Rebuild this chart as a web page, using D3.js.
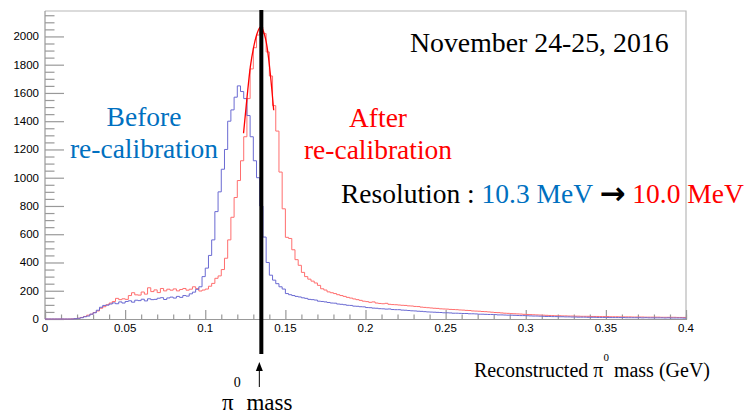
<!DOCTYPE html>
<html>
<head>
<meta charset="utf-8">
<script src="https://cdn.jsdelivr.net/npm/d3@7"></script>
<style>
  body { margin: 0; background: #fff; }
  .tick-label { font-family: "Liberation Sans", Arial, sans-serif; font-size: 11.5px; fill: #000; }
  .serif { font-family: "Liberation Serif", "Times New Roman", serif; }
</style>
</head>
<body>
<div id="chart"></div>
<script>
// histogram bins: 0.002 GeV wide, 0 -> 0.4 GeV
const binWidth = 0.002;

// before re-calibration (blue)
const beforeCounts = [
  0, 0, 0, 0, 0, 0, 0, 0, 0, 2,
  5, 9, 16, 21, 34, 44, 62, 83, 96, 98,
  106, 114, 108, 121, 113, 124, 129, 119, 133, 130,
  140, 128, 143, 137, 139, 147, 151, 138, 149, 155,
  148, 160, 153, 166, 162, 178, 190, 210, 228, 300,
  360, 450, 560, 760, 900, 1060, 1200, 1400, 1480, 1570,
  1650, 1610, 1560, 1440, 1290, 1120, 1000, 800, 580, 400,
  310, 275, 250, 228, 212, 180, 172, 166, 160, 156,
  150, 146, 139, 137, 134, 126, 124, 121, 117, 113,
  112, 106, 104, 101, 97, 96, 91, 90, 87, 86,
  81, 80, 77, 76, 73, 72, 70, 71, 67, 66,
  66, 63, 62, 60, 58, 57, 55, 54, 52, 50,
  49, 48, 47, 46, 44, 44, 43, 41, 41, 40,
  39, 39, 37, 37, 36, 34, 34, 33, 32, 32,
  31, 29, 29, 28, 27, 27, 26, 25, 24, 24,
  23, 22, 21, 21, 20, 19, 18, 18, 17, 17,
  16, 16, 15, 15, 14, 14, 13, 13, 13, 12,
  12, 12, 11, 11, 11, 11, 10, 10, 10, 10,
  10, 9, 9, 9, 9, 9, 8, 9, 8, 8,
  8, 8, 8, 7, 8, 7, 7, 7, 7, 6
];

// after re-calibration (red)
const afterCounts = [
  0, 0, 0, 0, 0, 0, 0, 0, 1, 3,
  5, 11, 18, 27, 34, 46, 57, 76, 87, 101,
  113, 124, 146, 137, 143, 139, 166, 186, 171, 169,
  191, 176, 221, 194, 206, 187, 216, 199, 211, 204,
  213, 199, 209, 216, 204, 211, 228, 215, 198, 205,
  212, 232, 252, 288, 305, 350, 430, 560, 720, 860,
  980, 1120, 1290, 1560, 1770, 1920, 2010, 2065, 2020, 1890,
  1720, 1510, 1330, 1040, 780, 578, 570, 490, 420, 380,
  330, 300, 282, 268, 255, 238, 214, 205, 192, 186,
  180, 172, 166, 160, 153, 148, 142, 137, 132, 126,
  123, 118, 121, 113, 110, 108, 111, 104, 102, 101,
  99, 97, 96, 93, 92, 89, 88, 84, 82, 80,
  78, 76, 75, 72, 71, 70, 68, 67, 66, 64,
  63, 61, 60, 57, 56, 55, 53, 52, 50, 48,
  46, 45, 43, 41, 40, 38, 37, 36, 35, 33,
  32, 31, 30, 29, 28, 27, 26, 25, 24, 23,
  23, 22, 22, 21, 21, 20, 20, 19, 19, 19,
  18, 18, 18, 17, 17, 17, 16, 16, 16, 15,
  15, 15, 15, 14, 14, 14, 14, 13, 13, 13,
  13, 13, 12, 12, 12, 12, 12, 11, 11, 11
];

// fit curve on the "after" peak
const fitMass = [0.1239, 0.1261, 0.1281, 0.1302, 0.1323, 0.1344, 0.1364, 0.1386, 0.1406, 0.1427];
const fitCounts = [1315, 1572, 1783, 1925, 2019, 2066, 2033, 1925, 1736, 1478];

const xTicks = [0, 0.05, 0.1, 0.15, 0.2, 0.25, 0.3, 0.35, 0.4];
const yTicks = [0, 200, 400, 600, 800, 1000, 1200, 1400, 1600, 1800, 2000];
const pi0Mass = 0.135;

// 1: SVG
const W = 748, H = 414;
const plot = { left: 45, right: 686, top: 11, bottom: 319 };

const svg = d3.select("#chart").append("svg")
    .attr("width", W)
    .attr("height", H);

// 2: SCALES
const x = d3.scaleLinear().domain([0, 0.4]).range([plot.left, plot.right]);
const y = d3.scaleLinear().domain([0, 2180]).range([plot.bottom, plot.top]);

// 3: FRAME + AXES
svg.append("path")
    .attr("d", `M${plot.left},${plot.top}H${plot.right}V${plot.bottom}`)
    .attr("fill", "none")
    .attr("stroke", "#b8b8b8")
    .attr("stroke-width", 1.2);

const yAxis = svg.append("g").attr("transform", `translate(${plot.left},0)`);
yAxis.call(d3.axisRight(y).tickValues(d3.range(0, 2180, 50)).tickSize(9.5).tickFormat(""));
yAxis.selectAll(".tick line").filter(d => d % 200 === 0).attr("x2", 19);
yAxis.selectAll("line, path").attr("stroke", "#999").attr("stroke-width", 1.2);
yAxis.select(".domain").attr("d", `M0,${plot.bottom}V${plot.top}`);

const xAxis = svg.append("g").attr("transform", `translate(0,${plot.bottom})`);
xAxis.call(d3.axisTop(x).tickValues(d3.range(0, 0.4001, 0.01)).tickSize(4.5).tickFormat(""));
xAxis.selectAll(".tick line").filter(d => Math.abs(d / 0.05 - Math.round(d / 0.05)) < 1e-6).attr("y2", -9);
xAxis.selectAll("line, path").attr("stroke", "#999").attr("stroke-width", 1.2);

// tick labels
svg.append("g").selectAll("text")
    .data(yTicks)
    .enter().append("text")
    .attr("class", "tick-label")
    .attr("x", plot.left - 6)
    .attr("y", d => y(d) + 4)
    .attr("text-anchor", "end")
    .text(d => d);

svg.append("g").selectAll("text")
    .data(xTicks)
    .enter().append("text")
    .attr("class", "tick-label")
    .attr("x", d => x(d))
    .attr("y", plot.bottom + 13)
    .attr("text-anchor", "middle")
    .text(d => d);

// 4: HISTOGRAMS (step lines)
const stepLine = d3.line()
    .x(d => x(d[0]))
    .y(d => y(d[1]))
    .curve(d3.curveStepAfter);

function toSteps(counts) {
    const pts = counts.map((c, i) => [i * binWidth, c]);
    pts.push([counts.length * binWidth, counts[counts.length - 1]]);
    return pts;
}

svg.append("path")
    .datum(toSteps(afterCounts))
    .attr("d", stepLine)
    .attr("fill", "none")
    .attr("stroke", "#ff6e6e")
    .attr("stroke-width", 1);

svg.append("path")
    .datum(toSteps(beforeCounts))
    .attr("d", stepLine)
    .attr("fill", "none")
    .attr("stroke", "#6a6ad2")
    .attr("stroke-width", 1);

// fit
svg.append("path")
    .datum(fitMass.map((m, i) => [m, fitCounts[i]]))
    .attr("d", d3.line().x(d => x(d[0])).y(d => y(d[1])).curve(d3.curveMonotoneX))
    .attr("fill", "none")
    .attr("stroke", "#ff0000")
    .attr("stroke-width", 1.3);

// 5: PI0 MASS MARKER
svg.append("line")
    .attr("x1", x(pi0Mass)).attr("x2", x(pi0Mass))
    .attr("y1", 10).attr("y2", 354)
    .attr("stroke", "#000")
    .attr("stroke-width", 4);

svg.append("line")
    .attr("x1", x(pi0Mass) - 2).attr("x2", x(pi0Mass) - 2)
    .attr("y1", 368).attr("y2", 387)
    .attr("stroke", "#000")
    .attr("stroke-width", 1);
svg.append("path")
    .attr("d", `M${x(pi0Mass) - 2},362 l-3.5,9 h7 z`)
    .attr("fill", "#000");

const piLabel = svg.append("text")
    .attr("class", "serif")
    .attr("x", 222)
    .attr("y", 410)
    .attr("font-size", 23)
    .attr("fill", "#000");
piLabel.append("tspan").text("π");
piLabel.append("tspan").attr("dy", -23).attr("font-size", 14).text("0");
piLabel.append("tspan").attr("dy", 23).text(" mass");

// x-axis title
const xTitle = svg.append("text")
    .attr("class", "serif")
    .attr("x", 710)
    .attr("y", 377)
    .attr("text-anchor", "end")
    .attr("font-size", 20)
    .attr("fill", "#000");
xTitle.append("tspan").text("Reconstructed π");
xTitle.append("tspan").attr("dy", -16).attr("font-size", 11).text("0");
xTitle.append("tspan").attr("dy", 16).text(" mass (GeV)");

// 6: ANNOTATIONS
svg.append("text")
    .attr("class", "serif")
    .attr("x", 410).attr("y", 52)
    .attr("font-size", 27.8)
    .attr("fill", "#000")
    .text("November 24-25, 2016");

[["Before", 126], ["re-calibration", 158]].forEach(([t, yy]) => {
    svg.append("text")
        .attr("class", "serif")
        .attr("x", 144).attr("y", yy)
        .attr("text-anchor", "middle")
        .attr("font-size", 27.5)
        .attr("fill", "#0070c0")
        .text(t);
});

[["After", 127], ["re-calibration", 159]].forEach(([t, yy]) => {
    svg.append("text")
        .attr("class", "serif")
        .attr("x", 378).attr("y", yy)
        .attr("text-anchor", "middle")
        .attr("font-size", 27.5)
        .attr("fill", "#ff0000")
        .text(t);
});

const res = svg.append("text")
    .attr("class", "serif")
    .attr("x", 341).attr("y", 203)
    .attr("font-size", 27.5)
    .attr("fill", "#000");
res.append("tspan").text("Resolution : ");
res.append("tspan").attr("fill", "#0070c0").text("10.3 MeV");
res.append("tspan").text(" ");
res.append("tspan")
    .attr("font-family", "'DejaVu Sans', sans-serif")
    .attr("font-weight", "bold")
    .attr("font-size", 31)
    .attr("dy", 1)
    .text("→");
res.append("tspan").attr("dy", -1).text(" ");
res.append("tspan").attr("fill", "#ff0000").text("10.0 MeV");
</script>
</body>
</html>
